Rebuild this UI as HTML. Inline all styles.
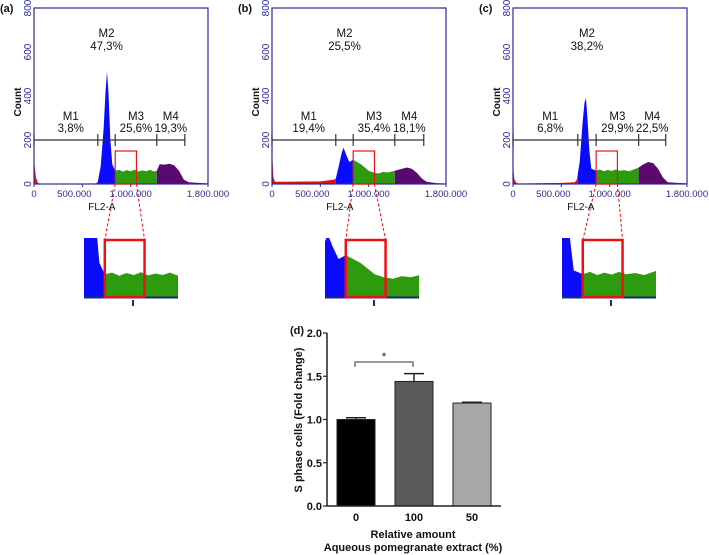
<!DOCTYPE html>
<html><head><meta charset="utf-8"><style>
body{margin:0;background:#fff;}
svg{display:block;font-family:"Liberation Sans",Arial,sans-serif;}
</style></head><body>
<svg id="fig" width="709" height="555" viewBox="0 0 709 555" xmlns="http://www.w3.org/2000/svg"></svg>
<script>
// ---- histogram data (x in millions FL2-A, y = count) ----
const histAX = [0,0.005,0.02,0.04,0.06,0.5,0.64,0.66,0.69,0.72,0.74,0.755,0.77,0.79,0.81,0.84,0.88,0.92,0.96,1.0,1.04,1.08,1.12,1.16,1.2,1.24,1.27,1.3,1.35,1.4,1.45,1.5,1.55,1.6,1.7,1.8];
const histAY = [110,90,30,5,1,2,3,10,80,250,420,510,420,200,90,60,64,56,63,58,65,57,62,58,64,57,60,90,88,92,85,60,20,8,5,3];
const histBX = [0,0.005,0.015,0.03,0.1,0.5,0.64,0.66,0.69,0.72,0.74,0.77,0.8,0.84,0.88,0.92,0.96,1.0,1.05,1.1,1.15,1.2,1.27,1.35,1.4,1.45,1.5,1.55,1.6,1.7,1.8];
const histBY = [580,110,30,10,10,12,20,25,80,140,165,130,100,110,100,90,75,60,52,48,55,52,60,70,75,68,50,25,10,4,2];
const histCX = [0,0.005,0.015,0.03,0.05,0.5,0.64,0.66,0.69,0.72,0.74,0.755,0.77,0.79,0.81,0.86,0.9,0.94,0.98,1.02,1.06,1.1,1.15,1.2,1.25,1.3,1.35,1.4,1.45,1.5,1.55,1.6,1.7,1.8];
const histCY = [240,60,20,8,2,5,8,20,100,280,370,390,300,150,70,60,66,58,64,59,66,60,63,58,66,75,90,100,95,70,30,8,5,3];
const gatesA = [0.66,0.84,1.27,1.56];
const gatesB = [0.66,0.84,1.27,1.57];
const gatesC = [0.67,0.86,1.30,1.58];
const pctA = ["3,8%","47,3%","25,6%","19,3%"];
const pctB = ["19,4%","25,5%","35,4%","18,1%"];
const pctC = ["6,8%","38,2%","29,9%","22,5%"];
const panelLabels = ["(a)","(b)","(c)"];
const countTicks = [0,200,400,600,800];
const fl2Ticks = [0,0.5,1.0,1.8];
const fl2TickLabels = ["0","500.000","1.000.000","1.800.000"];
// ---- bar chart data ----
const barCats = ["0","100","50"];
const barVals = [1.0,1.44,1.19];
const barErrs = [0.02,0.09,0.01];
const yTickVals = [0,0.5,1.0,1.5,2.0];
const yTickLabels = ["0.0","0.5","1.0","1.5","2.0"];

const NS="http://www.w3.org/2000/svg";
const svg=document.getElementById('fig');
function mk(tag,attrs,parent,text){const e=document.createElementNS(NS,tag);for(const k in attrs)e.setAttribute(k,attrs[k]);if(text!==undefined)e.textContent=text;(parent||svg).appendChild(e);return e;}

const panels=[
 {left:34,hx:histAX,hy:histAY,g:gatesA,p:pctA,tl:84},
 {left:272,hx:histBX,hy:histBY,g:gatesB,p:pctB,tl:325},
 {left:513,hx:histCX,hy:histCY,g:gatesC,p:pctC,tl:562}
];
const W=174, ptop=8, base=184;
const colors=["#e01010","#0a0aff","#2e9a0e","#5a0a6e"];
panels.forEach((P,i)=>{
  const xs=v=>P.left+v/1.8*W;
  const ys=c=>base-c*(base-ptop)/800;
  const G=mk('g',{},svg);
  
  
  const bounds=[0,P.g[0],P.g[1],P.g[2],1.8];
  const pts=P.hx.map((x,k)=>xs(x)+','+ys(P.hy[k])).join(' ');
  const poly=xs(0)+','+base+' '+pts+' '+xs(1.8)+','+base;
  for(let r=0;r<4;r++){
    const cid='clip'+i+'_'+r;
    const cp=mk('clipPath',{id:cid},G);
    mk('rect',{x:xs(bounds[r]),y:0,width:xs(bounds[r+1])-xs(bounds[r]),height:base+1},cp);
    const pg=mk('polygon',{points:poly,fill:colors[r],'clip-path':'url(#'+cid+')'},G);
    
    
  }
  const box=mk('rect',{x:P.left,y:ptop,width:W,height:base-ptop,fill:'none',stroke:'#2a2aa0','stroke-width':1.2},G);
  
  
  countTicks.forEach(c=>{
    const t=mk('text',{x:0,y:0,'font-size':10,fill:'#2a2a90','text-anchor':'middle',transform:`translate(${P.left-3},${ys(c)}) rotate(-90)`},G,String(c));
    
    
  });
  fl2Ticks.forEach((v,k)=>{
    mk('line',{x1:xs(v),x2:xs(v),y1:base,y2:base+3,stroke:'#2a2aa0'},G);
    const t=mk('text',{x:xs(v)-(k==1?8:0),y:base+13,'font-size':9.5,fill:'#2a2a90','text-anchor':'middle'},G,fl2TickLabels[k]);
    
    
  });
  const yl=mk('text',{x:0,y:0,'font-size':10,'font-weight':'bold',fill:'#111','text-anchor':'middle',transform:`translate(${P.left-13},102) rotate(-90)`},G,'Count');
  
  
  const xl=mk('text',{x:P.left+W*0.39,y:210,'font-size':10,fill:'#111','text-anchor':'middle'},G,'FL2-A');
  
  
  const pl=mk('text',{x:P.left-34,y:12,'font-size':11,'font-weight':'bold',fill:'#111'},G,panelLabels[i]);
  
  
  const gy=ys(200);
  mk('line',{x1:P.left,x2:xs(P.g[3]),y1:gy,y2:gy,stroke:'#333','stroke-width':1.2},G);
  [0].concat(P.g).forEach(v=>mk('line',{x1:xs(v),x2:xs(v),y1:gy-6,y2:gy+6,stroke:'#333','stroke-width':1.2},G));
  const mids=[(0+P.g[0])/2+0.05,(P.g[0]+P.g[1])/2,(P.g[1]+P.g[2])/2,(P.g[2]+P.g[3])/2];
  const ly=[[120,132],[37,50],[120,132],[120,132]];
  ["M1","M2","M3","M4"].forEach((m,k)=>{
    const cx=xs(mids[k]);
    const a=mk('text',{x:cx,y:ly[k][0],'font-size':11.5,fill:'#111','text-anchor':'middle'},G,m);
    
    
    const b=mk('text',{x:cx,y:ly[k][1],'font-size':11.5,fill:'#111','text-anchor':'middle'},G,P.p[k]);
    
    
  });
  const zx0=P.g[1], zx1=P.g[1]+0.22;
  mk('rect',{x:xs(zx0),y:ys(150),width:xs(zx1)-xs(zx0),height:base-ys(150),fill:'none',stroke:'#f01010','stroke-width':1.2},G);
  const tl=P.tl, tw=94, tb=297, tt=238;
  const t0=zx0-0.115, t1=t0+0.52;
  const txs=v=>tl+(v-t0)/(t1-t0)*tw;
  const tys=c=>tb-c*0.38;
  const cid='tclip'+i;
  const cp=mk('clipPath',{id:cid},G);
  mk('rect',{x:tl,y:tt,width:tw,height:tb-tt+1},cp);
  const tpts=P.hx.map((x,k)=>txs(x)+','+tys(P.hy[k])).join(' ');
  const tpoly=txs(0)+','+tb+' '+tpts+' '+txs(1.8)+','+tb;
  for(let r=1;r<3;r++){
    const c2='tc'+i+'_'+r;
    const c2p=mk('clipPath',{id:c2},G);
    mk('rect',{x:Math.max(tl,txs(bounds[r])),y:tt,width:Math.max(0,Math.min(tl+tw,txs(bounds[r+1]))-Math.max(tl,txs(bounds[r]))),height:tb-tt+1},c2p);
    const tg=mk('g',{'clip-path':'url(#'+cid+')'},G);
    const tp=mk('polygon',{points:tpoly,fill:colors[r],'clip-path':'url(#'+c2+')'},tg);
    
    
  }
  mk('line',{x1:tl,x2:tl+tw,y1:tb+0.5,y2:tb+0.5,stroke:'#1a2a70','stroke-width':2},G);
  const rb=mk('rect',{x:txs(zx0),y:240,width:txs(zx1)-txs(zx0),height:57,fill:'none',stroke:'#f01010','stroke-width':2.5},G);
  
  
  mk('line',{x1:tl+49,x2:tl+49,y1:300,y2:306,stroke:'#1a2a90','stroke-width':2},G);
  mk('line',{x1:xs(zx0),y1:base,x2:txs(zx0),y2:240,stroke:'#f01010','stroke-dasharray':'3,2'},G);
  mk('line',{x1:xs(zx1),y1:base,x2:txs(zx1),y2:240,stroke:'#f01010','stroke-dasharray':'3,2'},G);
});

// ---- bar chart ----
const B=mk('g',{},svg);


const ax=327, y0=506, y2=333;
const by=v=>y0-v/2*(y0-y2);
const bx=k=>356+k*58;
const barFill=["#000","#5a5a5a","#a8a8a8"];
barVals.forEach((v,k)=>{
  const x=bx(k), e=barErrs[k];
  mk('line',{x1:x,x2:x,y1:by(v),y2:by(v+e),stroke:'#222','stroke-width':1.5},B);
  mk('line',{x1:x-10,x2:x+10,y1:by(v+e),y2:by(v+e),stroke:'#222','stroke-width':1.5},B);
  const r=mk('rect',{x:x-19,y:by(v),width:38,height:y0-by(v),fill:barFill[k],stroke:'#222','stroke-width':1},B);
  
  
  const t=mk('text',{x:x,y:521,'font-size':11,'font-weight':'bold','text-anchor':'middle',fill:'#111'},B,barCats[k]);
  
  
});
mk('line',{x1:ax,x2:ax,y1:y2,y2:y0,stroke:'#222','stroke-width':1.5},B);
mk('line',{x1:ax,x2:501,y1:y0,y2:y0,stroke:'#222','stroke-width':1.5},B);
yTickVals.forEach((v,k)=>{
  mk('line',{x1:ax-4,x2:ax,y1:by(v),y2:by(v),stroke:'#222','stroke-width':1.2},B);
  const t=mk('text',{x:ax-5,y:by(v)+4,'font-size':11,'font-weight':'bold','text-anchor':'end',fill:'#111'},B,yTickLabels[k]);
  
  
});
const yt=mk('text',{x:0,y:0,'font-size':11,'font-weight':'bold','text-anchor':'middle',fill:'#111',transform:'translate(302,420) rotate(-90)'},B,'S phase cells (Fold change)');


const x1t=mk('text',{x:413,y:538,'font-size':11,'font-weight':'bold','text-anchor':'middle',fill:'#111'},B,'Relative amount');


const x2t=mk('text',{x:413,y:551,'font-size':11,'font-weight':'bold','text-anchor':'middle',fill:'#111'},B,'Aqueous pomegranate extract (%)');


const dl=mk('text',{x:290,y:334,'font-size':11,'font-weight':'bold',fill:'#111'},B,'(d)');


mk('polyline',{points:'355,367 355,362 413,362 413,367',fill:'none',stroke:'#333','stroke-width':1},B);
const st=mk('text',{x:384,y:360,'font-size':11,'text-anchor':'middle',fill:'#111'},B,'*');


</script>
</body></html>
